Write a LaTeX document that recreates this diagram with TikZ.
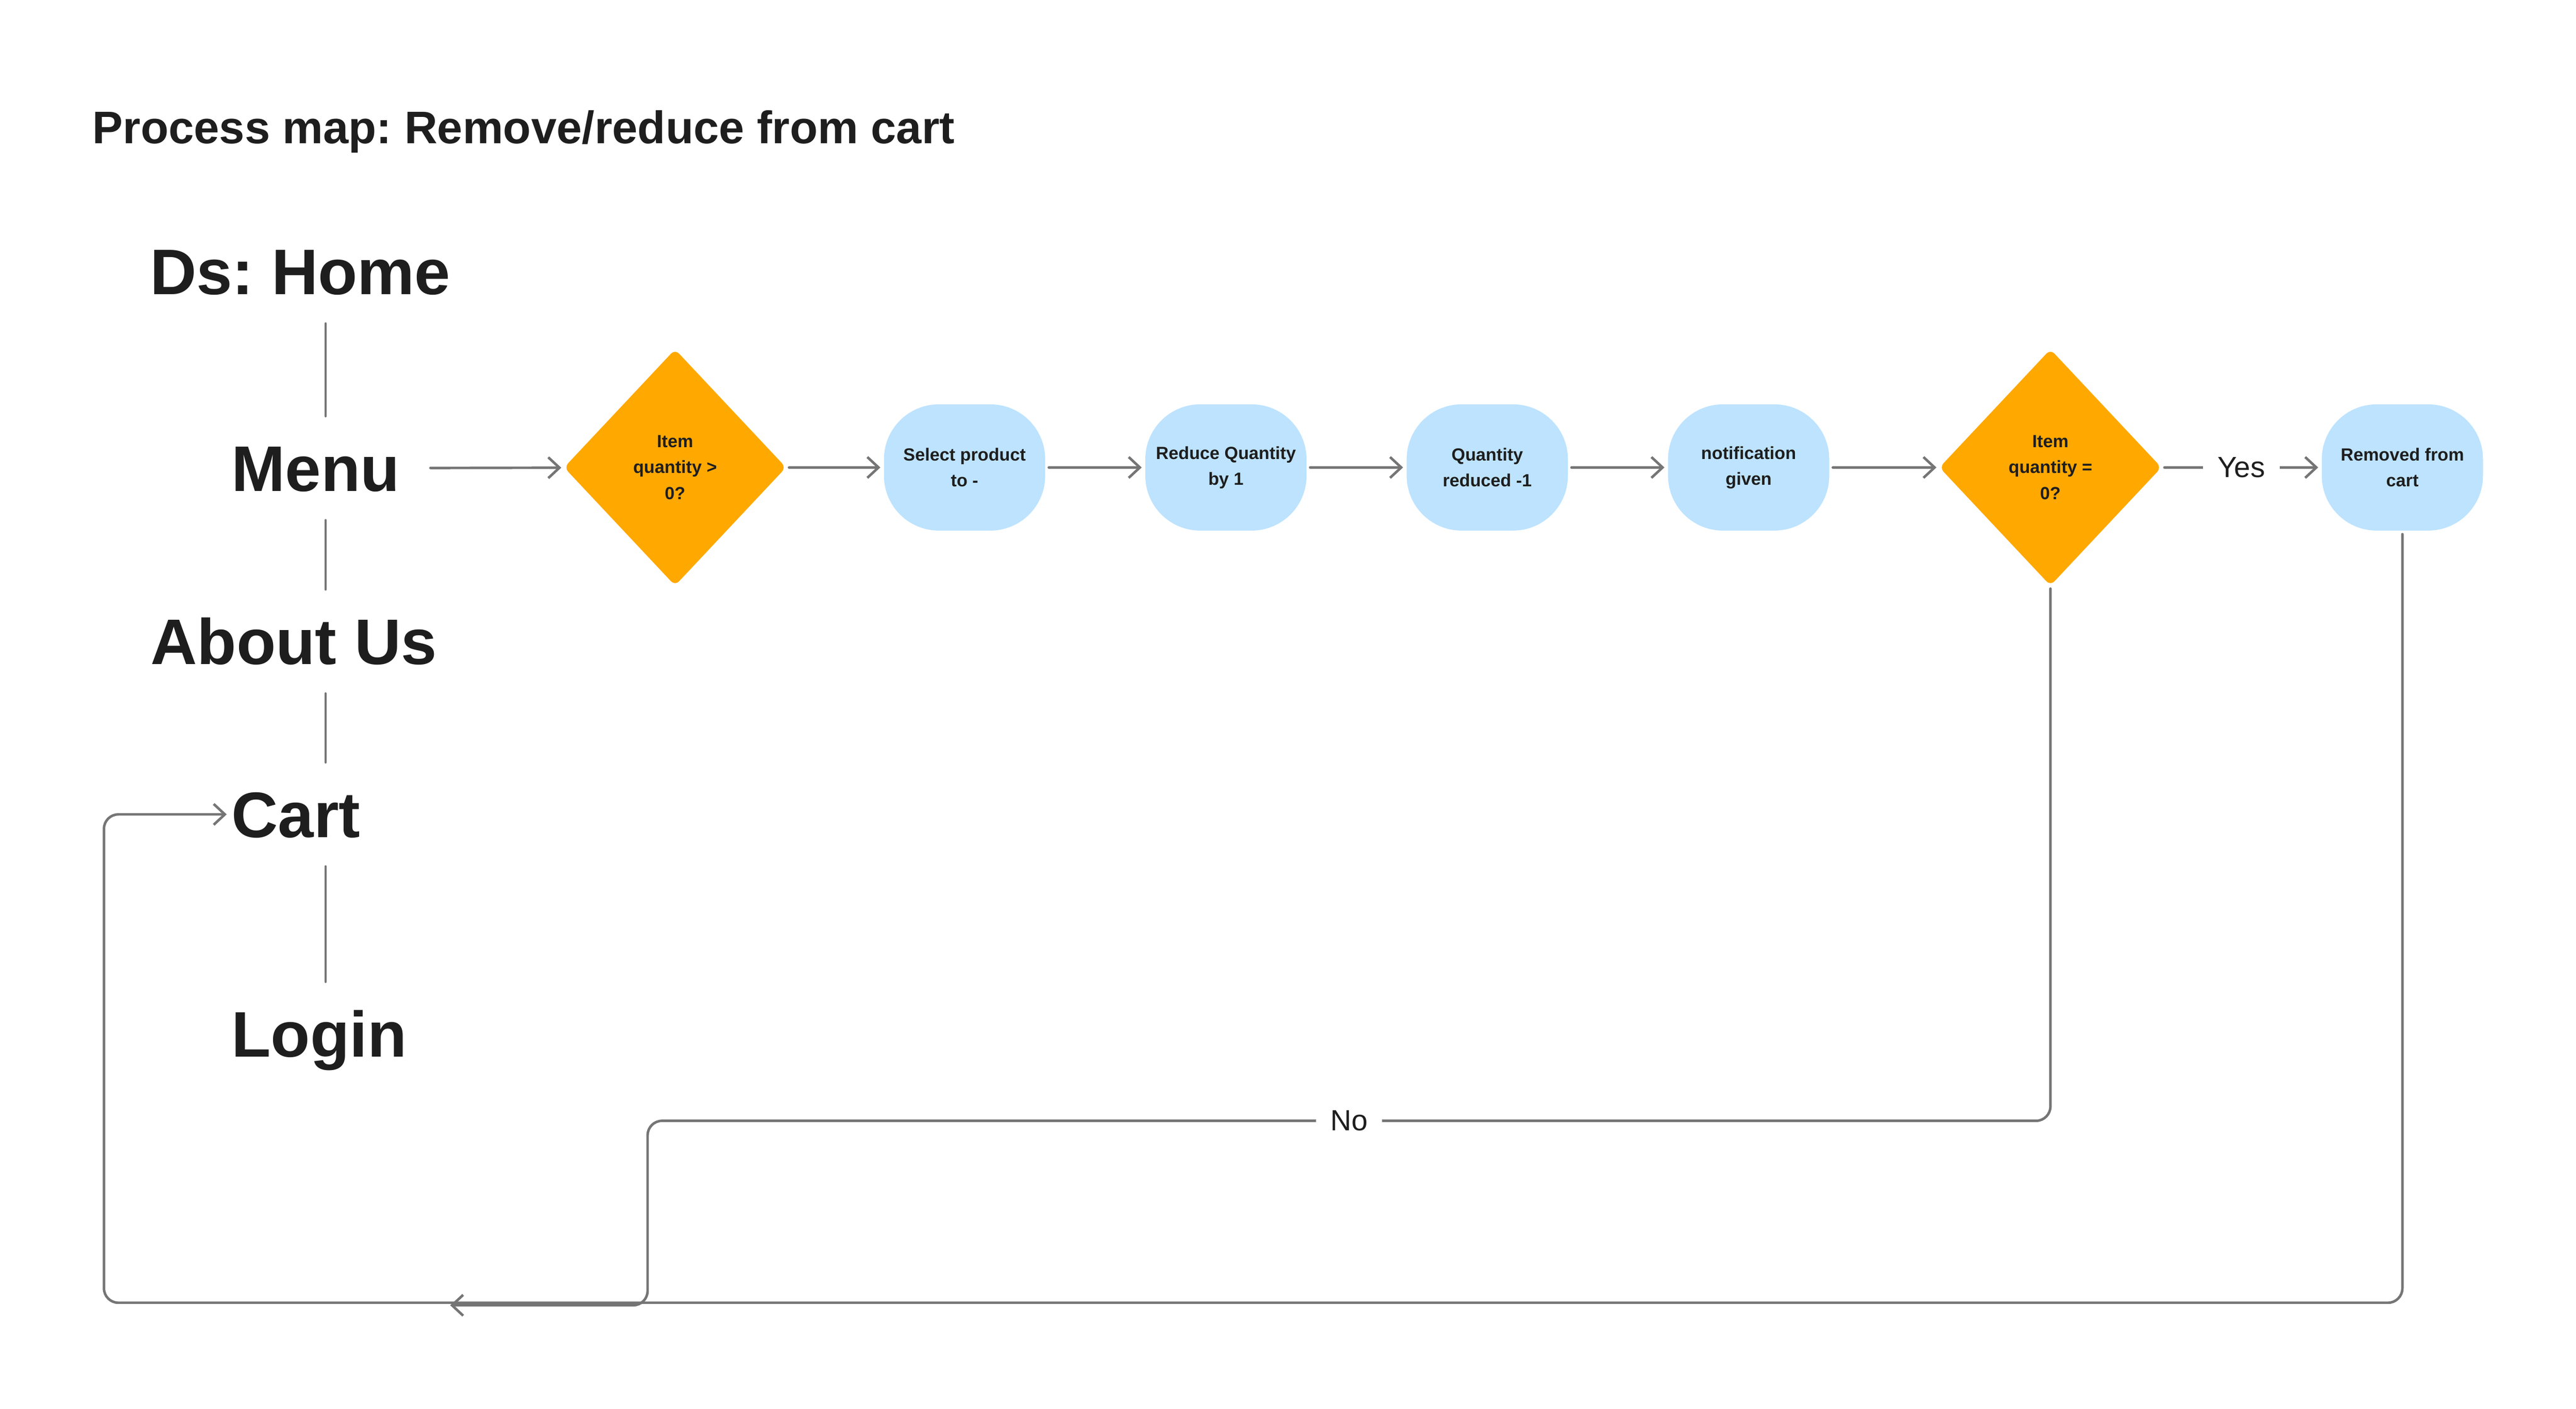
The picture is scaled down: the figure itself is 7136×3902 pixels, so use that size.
\documentclass[tikz,border=0pt]{standalone}
\usepackage{fontspec}
\setmainfont{Liberation Sans}
\usetikzlibrary{shapes.geometric,arrows.meta}
\frenchspacing

\definecolor{lineGray}{HTML}{757575}
\definecolor{inkDark}{HTML}{1E1E1E}
\definecolor{decisionOrange}{HTML}{FFA800}
\definecolor{stepBlue}{HTML}{BDE3FF}

\begin{document}
\begin{tikzpicture}
[x=0.005cm,y=-0.005cm,
  titleDecorate/.style={anchor=base west,inner sep=0pt,text=inkDark,
    font=\fontsize{18}{22}\selectfont\bfseries},
  menuDecorate/.style={anchor=base west,inner xsep=0pt,inner ysep=0.395cm,
    text height=0.64cm,text depth=0pt,text=inkDark,
    font=\fontsize{25.4}{30}\selectfont\bfseries},
  boxDecorate/.style={shape=rectangle,rounded corners=0.76cm,fill=stepBlue,
    minimum width=2.235cm,minimum height=1.75cm,inner sep=0pt,outer sep=0.05cm,
    align=center,text=inkDark,font=\fontsize{6.95}{10.2}\selectfont\bfseries},
  decisionDecorate/.style={shape=diamond,rounded corners=0.08cm,fill=decisionOrange,
    minimum width=3.1cm,minimum height=3.3cm,inner sep=0pt,outer sep=0.03cm,
    align=center,text=inkDark,font=\fontsize{6.95}{10.2}\selectfont\bfseries},
  lineDecorate/.style={-,draw=lineGray,line width=1pt,line cap=round},
  arrowDecorate/.style={lineDecorate,-{Straight Barb[length=4.4pt,width=8.2pt]}},
  labelDecorate/.style={fill=white,inner xsep=0.2cm,inner ysep=1pt,text=inkDark,
    font=\fontsize{11.5}{14}\selectfont}]
\useasboundingbox (0,0) rectangle (7136,3902);
\node (title) at (255,398) [titleDecorate] {Process map: Remove/reduce from cart};
%% site menu column
\foreach \nodename/\x/\y/\caption in {
  home/414/816/Ds: Home, menu/640/1361/Menu, about/416/1841/About Us,
  cart/640/2320/Cart, login/640/2928/Login}
{
  \node (\nodename) at (\x,\y) [menuDecorate] {\caption};
}
\coordinate (spine) at (902,0);
\foreach \upper/\lower in {home/menu, menu/about, about/cart, cart/login}
{
  \draw[lineDecorate] (\upper.south -| spine) -- (\lower.north -| spine);
}
%% process steps
\node (dq1) at (1870,1295) [decisionDecorate] {Item\\quantity >\\0?};
\foreach \nodename/\x/\caption in {
  b1/2672/{Select product\\to -}, b2/3396/{Reduce Quantity\\by 1},
  b3/4120/{Quantity\\reduced -1}, b4/4844/{notification\\given},
  b5/6655/{Removed from\\cart}}
{
  \node (\nodename) at (\x,1295) [boxDecorate] {\caption};
}
\node (dq2) at (5680,1295) [decisionDecorate] {Item\\quantity =\\0?};
%% flow arrows
\path (menu) edge[arrowDecorate,shorten <=0.42cm] (dq1);
\path
\foreach \startnode/\endnode in {
  dq1/b1, b1/b2, b2/b3, b3/b4, b4/dq2}
{
  (\startnode) edge[arrowDecorate] (\endnode)
};
\path (dq2) edge[arrowDecorate] node[labelDecorate] {Yes} (b5);
%% loops back to the cart
\coordinate (noturn) at (1794,3105);
\coordinate (noend) at (1247,3616);
\coordinate (loopcorner) at (288,3609);
\draw[arrowDecorate,rounded corners=0.2cm] (dq2) |- node[labelDecorate,pos=0.75] {No} (noturn) |- (noend);
\draw[arrowDecorate,rounded corners=0.2cm,shorten >=0.06cm] (b5) |- (loopcorner) |- (cart);
\end{tikzpicture}
\end{document}
